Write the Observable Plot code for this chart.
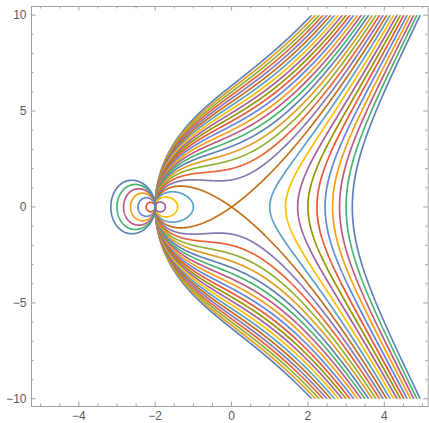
<!DOCTYPE html>
<html><head><meta charset="utf-8">
<script src="https://cdn.jsdelivr.net/npm/d3@7"></script>
<script src="https://cdn.jsdelivr.net/npm/@observablehq/plot@0.6"></script>
<style>html,body{margin:0;padding:0;background:#fff}svg{display:block}</style>
</head><body><div id="chart"></div>
<script>
// Contour levels c of the curve family  y^2 = (x^2 - c)(x + 2)
const levels = [-20,-19,-18,-17,-16,-15,-14,-13,-12,-11,-10,-9,-8,-7,-6,-5,-4,-3,-2,-1,0,1,2,3,4,5,6,7,8,9,10];
// Mathematica default (97) palette, cycled per level
const palette = ["#5e81b5","#e19c24","#8fb032","#eb6235","#8778b3","#c56e1a","#5d9ec7","#ffbf00","#a5609d","#929600","#e95536","#6685d9","#f89f13","#bc5b80","#47b66d"];
const xMajor = [-4,-2,0,2,4];
const xMinor = [-5,-4.5,-3.5,-3,-2.5,-1.5,-1,-0.5,0.5,1,1.5,2.5,3,3.5,4.5,5];
const yMajor = [-10,-5,0,5,10];
const yMinor = [-9,-8,-7,-6,-4,-3,-2,-1,1,2,3,4,6,7,8,9];
const plotRangeX = [-5,5];
const plotRangeY = [-10,10];

const W = 429, H = 423;
const mT = 6, mB = 17, mL = 31, mR = 1.3;
const innerW = W - mL - mR, innerH = H - mT - mB;
const frameColor = "#a0a0a0";
const labelColor = "#5a5a5a";

const curveField = c => (x, y) => y * y - (x * x - c) * (x + 2);

const contourMarks = levels.map((c, i) => Plot.contour({
  value: curveField(c),
  x1: -5.6, x2: 5.6, y1: -11, y2: 11,
  thresholds: [0],
  fill: "none",
  stroke: palette[i % palette.length],
  strokeWidth: 1.7,
  pixelSize: 0.5
}));

const majorLen = 4.5, minorLen = 2.5;
const plot = Plot.plot({
  width: W, height: H,
  marginTop: mT, marginBottom: mB, marginLeft: mL, marginRight: mR,
  x: {domain: [-5.24, 5.15], axis: null},
  y: {domain: [-10.4, 10.45], axis: null},
  style: {fontFamily: "'Liberation Sans', Arial, sans-serif", background: "#fff"},
  marks: [
    ...contourMarks,
    Plot.frame({stroke: frameColor, strokeWidth: 1}),
    Plot.ruleX(xMajor, {stroke: frameColor, insetTop: innerH - majorLen}),
    Plot.ruleX(xMinor, {stroke: frameColor, insetTop: innerH - minorLen}),
    Plot.ruleX(xMajor, {stroke: frameColor, insetBottom: innerH - majorLen}),
    Plot.ruleX(xMinor, {stroke: frameColor, insetBottom: innerH - minorLen}),
    Plot.ruleY(yMajor, {stroke: frameColor, insetRight: innerW - majorLen}),
    Plot.ruleY(yMinor, {stroke: frameColor, insetRight: innerW - minorLen}),
    Plot.ruleY(yMajor, {stroke: frameColor, insetLeft: innerW - majorLen}),
    Plot.ruleY(yMinor, {stroke: frameColor, insetLeft: innerW - minorLen}),
    Plot.axisX(xMajor, {anchor: "bottom", tickSize: 0, tickPadding: 5, fontSize: 12, color: labelColor}),
    Plot.axisY(yMajor, {anchor: "left", tickSize: 0, tickPadding: 5, fontSize: 12, color: labelColor})
  ]
});

// clip the curves to Mathematica's plot range [-5,5] x [-10,10]
const X = plot.scale("x"), Y = plot.scale("y");
const ns = "http://www.w3.org/2000/svg";
const defs = document.createElementNS(ns, "defs");
const cp = document.createElementNS(ns, "clipPath");
cp.setAttribute("id", "plotRangeClip");
const r = document.createElementNS(ns, "rect");
const rx0 = X.apply(plotRangeX[0]), rx1 = X.apply(plotRangeX[1]);
const ry0 = Y.apply(plotRangeY[1]), ry1 = Y.apply(plotRangeY[0]);
r.setAttribute("x", rx0); r.setAttribute("y", ry0);
r.setAttribute("width", rx1 - rx0); r.setAttribute("height", ry1 - ry0);
cp.appendChild(r); defs.appendChild(cp);
plot.insertBefore(defs, plot.firstChild);
plot.querySelectorAll('g[aria-label="contour"]').forEach(g => g.setAttribute("clip-path", "url(#plotRangeClip)"));

document.getElementById("chart").appendChild(plot);
</script>
</body></html>
